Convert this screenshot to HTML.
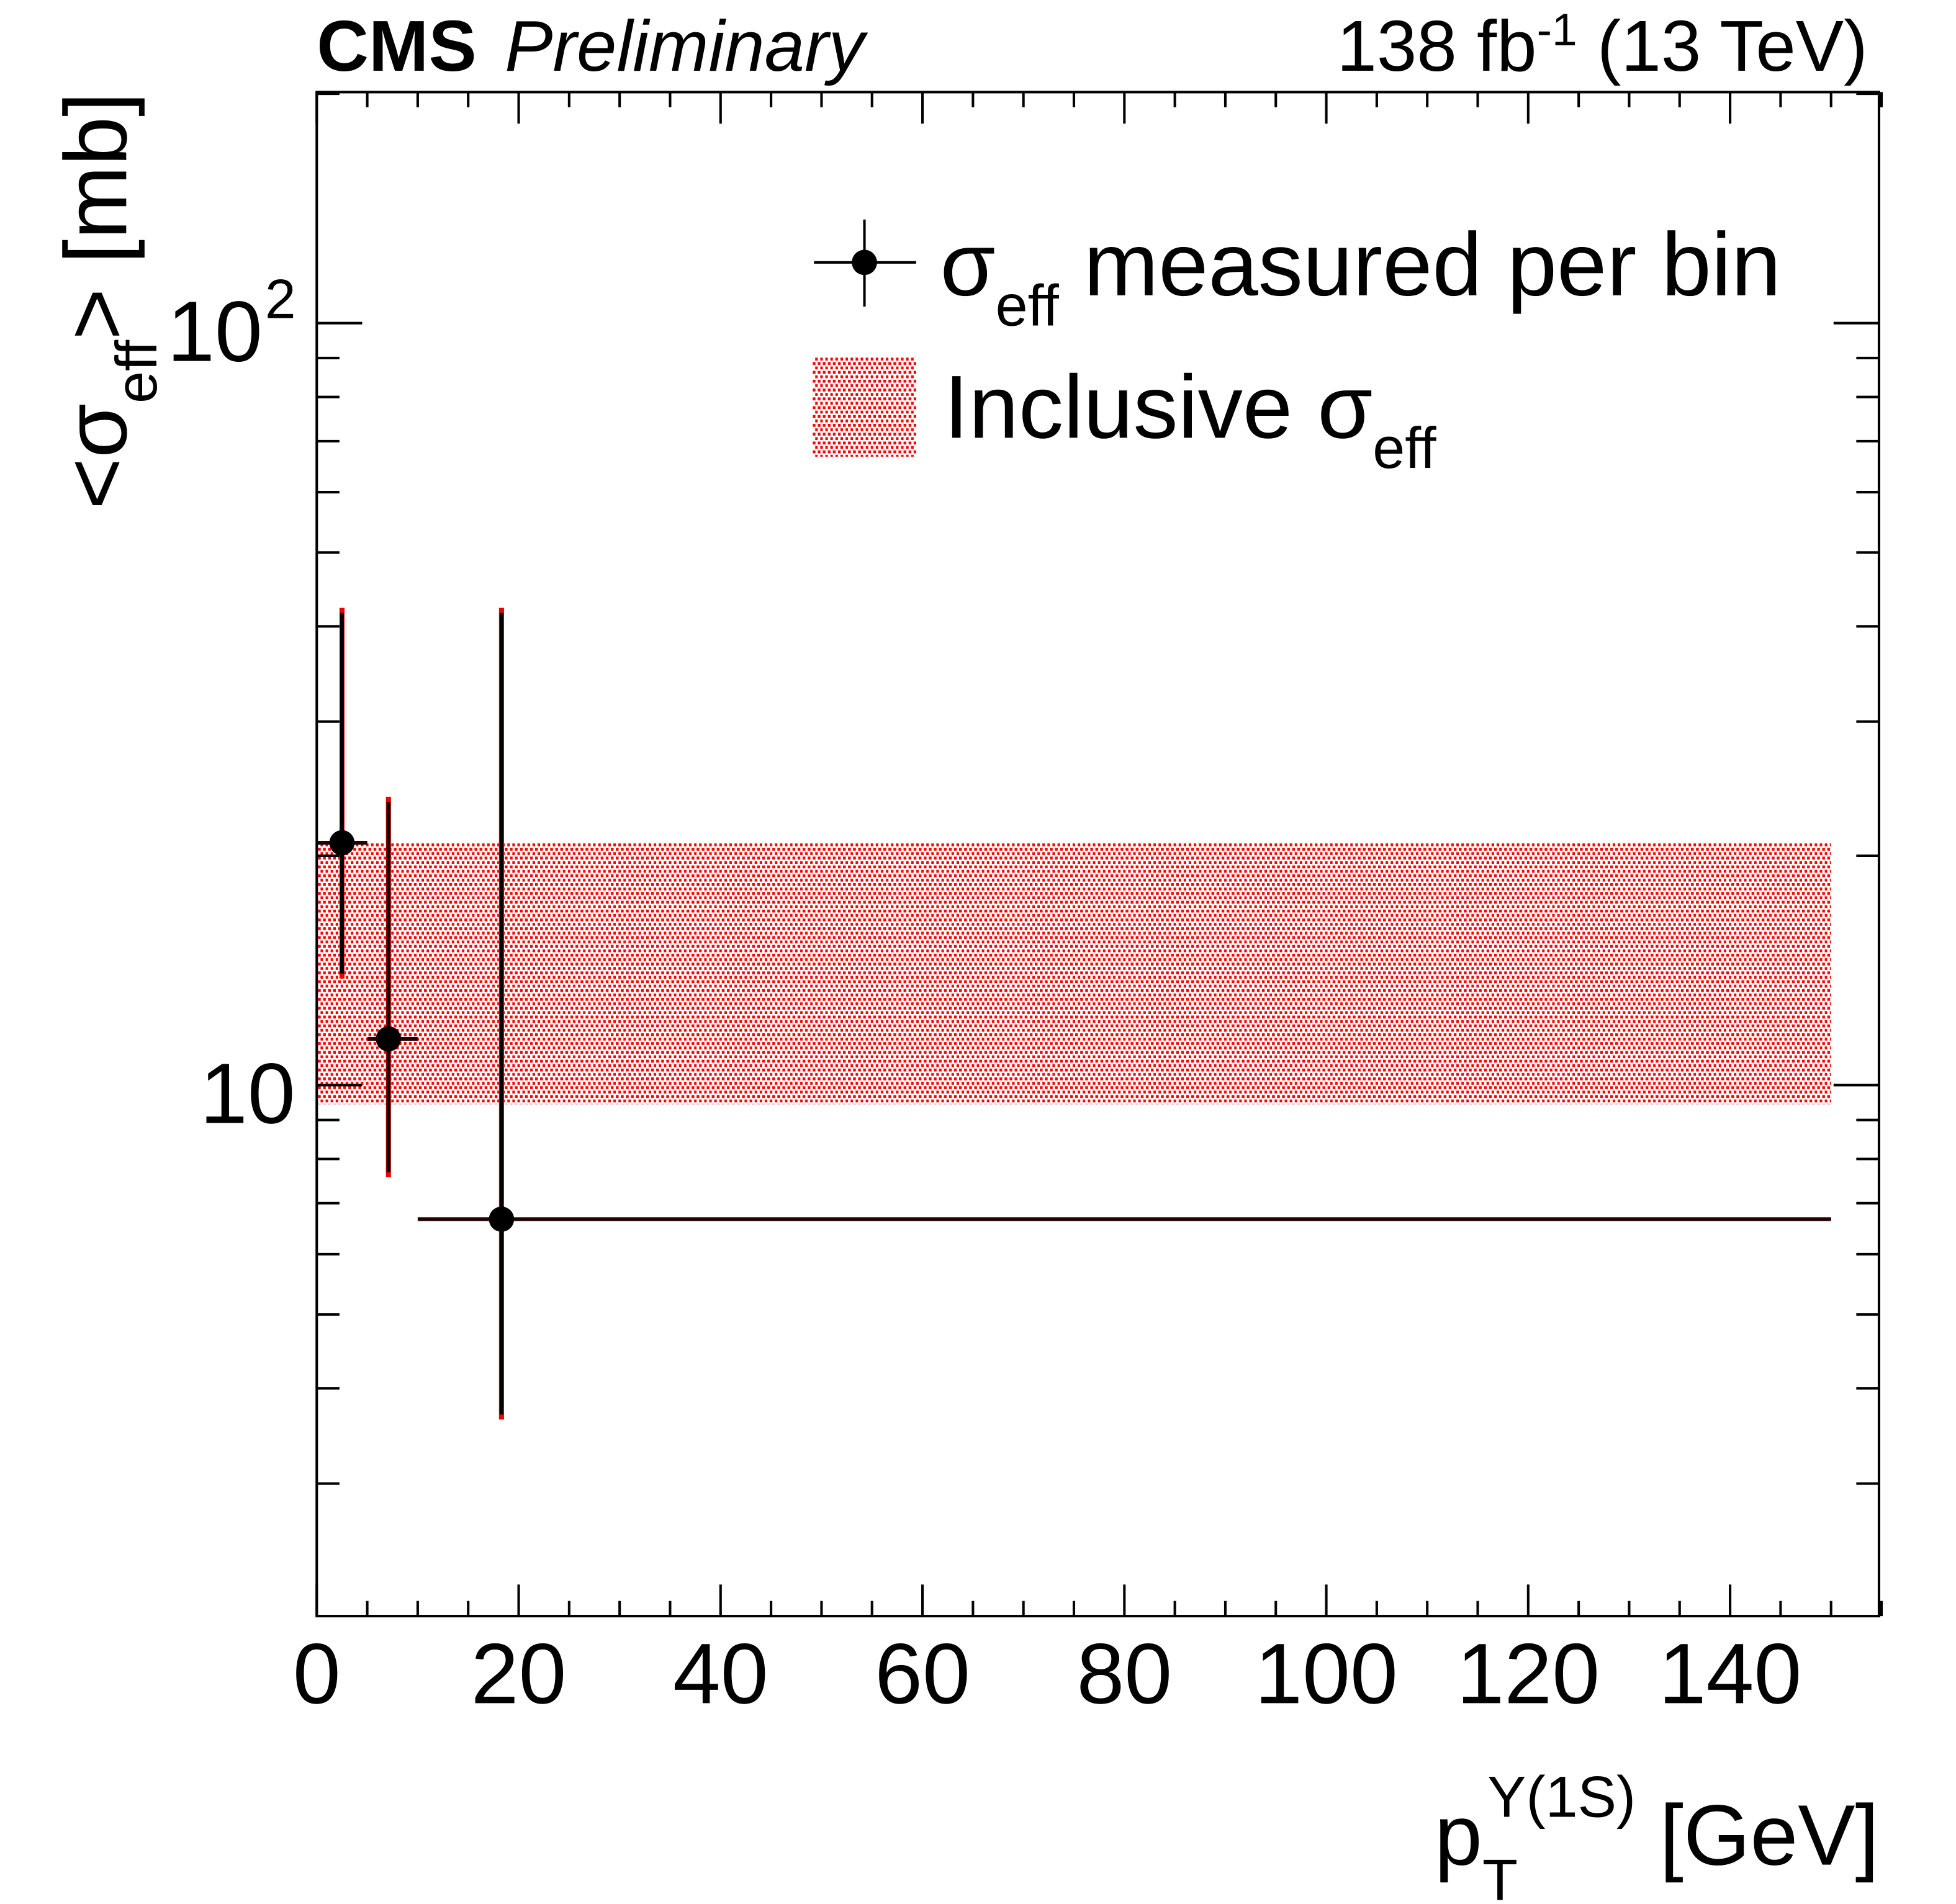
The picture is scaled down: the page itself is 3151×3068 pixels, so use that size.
<!DOCTYPE html>
<html><head><meta charset="utf-8"><style>html,body{margin:0;padding:0;background:#fff}svg{display:block}text{font-family:"Liberation Sans",sans-serif;fill:#000}</style></head>
<body>
<svg id="chart" width="3151" height="3068" viewBox="0 0 1550 1509.2" xmlns="http://www.w3.org/2000/svg">
<defs>
<pattern id="dots" width="4" height="7" patternUnits="userSpaceOnUse">
<rect width="4" height="7" fill="#fff"/>
<rect x="0" y="0" width="2.2" height="2.3" fill="#f00"/>
<rect x="2" y="3.5" width="2.2" height="2.3" fill="#f00"/>
</pattern>
</defs>
<g id="band"></g>
<g id="ticks"></g>
<g id="points"></g>
<rect x="251" y="73" width="1238" height="1208" fill="none" stroke="#000" stroke-width="2"/>
<g id="labels"></g>
<text x="251" y="56" font-size="57" font-weight="bold">CMS</text>
<text x="400" y="56" font-size="57" font-style="italic">Preliminary</text>
<text x="1480" y="56" font-size="57" text-anchor="end">138 fb<tspan dy="-20" font-size="36">-1</tspan><tspan dy="20"> (13 TeV)</tspan></text>
<g>
<line x1="645" y1="208" x2="726" y2="208" stroke="#000" stroke-width="2"/>
<line x1="685" y1="174" x2="685" y2="243" stroke="#000" stroke-width="2"/>
<circle cx="685" cy="208" r="10" fill="#000"/>
<text x="745" y="234" font-size="71">σ<tspan dy="24" font-size="46">eff</tspan><tspan dy="-24"> measured per bin</tspan></text>
<rect x="644" y="283" width="82" height="79" fill="url(#dots)"/>
<text x="748" y="347" font-size="71">Inclusive σ<tspan dy="24" font-size="46">eff</tspan></text>
</g>
<text x="1489" y="1478" font-size="68" text-anchor="end">p<tspan dy="28" font-size="46">T</tspan><tspan dx="-24" dy="-66" font-size="46">Υ(1S)</tspan><tspan dy="38"> [GeV]</tspan></text>
<text transform="translate(100,73) rotate(-90)" font-size="70" text-anchor="end">&lt;σ<tspan dy="24" font-size="46">eff</tspan><tspan dy="-24">&gt; [mb]</tspan></text>
</svg>
<script>
const xCenters=[2.5,7.1,18.3];
const xLow=[0,5,10];
const xHigh=[5,10,150];
const yVals=[20.8,11.5,6.67];
const yUp=[42.3,23.9,42.3];
const yDown=[13.8,7.57,3.64];
const bandLow=9.44, bandHigh=20.8, bandXMax=150;
const xTicks=[0,20,40,60,80,100,120,140];
const X0=251,X1=1489,Y0=1281,Y1=73;
const xMin=0,xMax=154.75,yMin=Math.log10(2.01),yMax=Math.log10(201);
const sx=v=>X0+(v-xMin)/(xMax-xMin)*(X1-X0);
const sy=v=>Y0-(Math.log10(v)-yMin)/(yMax-yMin)*(Y0-Y1);
const NS="http://www.w3.org/2000/svg";
function mk(t,a,p){const e=document.createElementNS(NS,t);for(const k in a)e.setAttribute(k,a[k]);p.appendChild(e);return e;}
const band=document.getElementById('band');
const br=mk('rect',{x:sx(0),y:sy(bandHigh),width:sx(bandXMax)-sx(0),height:sy(bandLow)-sy(bandHigh),fill:'url(#dots)'},band);


const tk=document.getElementById('ticks');
for(let v=0;v<=155;v+=5){const L=(v%20===0)?25:12;const x=sx(v);
mk('line',{x1:x,y1:Y0,x2:x,y2:Y0-L,stroke:'#000','stroke-width':2},tk);
mk('line',{x1:x,y1:Y1,x2:x,y2:Y1+L,stroke:'#000','stroke-width':2},tk);}
for(const d of [1,10,100]){for(let m=1;m<10;m++){const v=d*m;if(v<2.01||v>201)continue;const y=sy(v);const L=(m===1)?36:18;
mk('line',{x1:X0,y1:y,x2:X0+L,y2:y,stroke:'#000','stroke-width':2},tk);
mk('line',{x1:X1,y1:y,x2:X1-L,y2:y,stroke:'#000','stroke-width':2},tk);}}
const lb=document.getElementById('labels');
xTicks.forEach(v=>{const t=mk('text',{x:sx(v),y:1350,'font-size':68,'text-anchor':'middle'},lb);t.textContent=v;

});
const t10=mk('text',{x:234,y:sy(10)+30,'font-size':68,'text-anchor':'end'},lb);t10.textContent='10';


const t100=mk('text',{x:208,y:sy(100)+30,'font-size':68,'text-anchor':'end'},lb);t100.textContent='10';


const sup=mk('text',{x:210,y:sy(100)-4,'font-size':44},lb);sup.textContent='2';
const pts=document.getElementById('points');
xCenters.forEach((xc,i)=>{const g=mk('g',{},pts);


const y=sy(yVals[i]),x=sx(xc);
mk('line',{x1:x,y1:sy(yUp[i]),x2:x,y2:sy(yDown[i]),stroke:'#e00','stroke-width':4},g);
mk('line',{x1:x,y1:sy(yUp[i])+4,x2:x,y2:sy(yDown[i])-4,stroke:'#000','stroke-width':3},g);
mk('line',{x1:sx(xLow[i]),y1:y,x2:sx(xHigh[i]),y2:y,stroke:'#200','stroke-width':3},g);
mk('circle',{cx:x,cy:y,r:10,fill:'#000'},g);});
</script>
</body></html>
